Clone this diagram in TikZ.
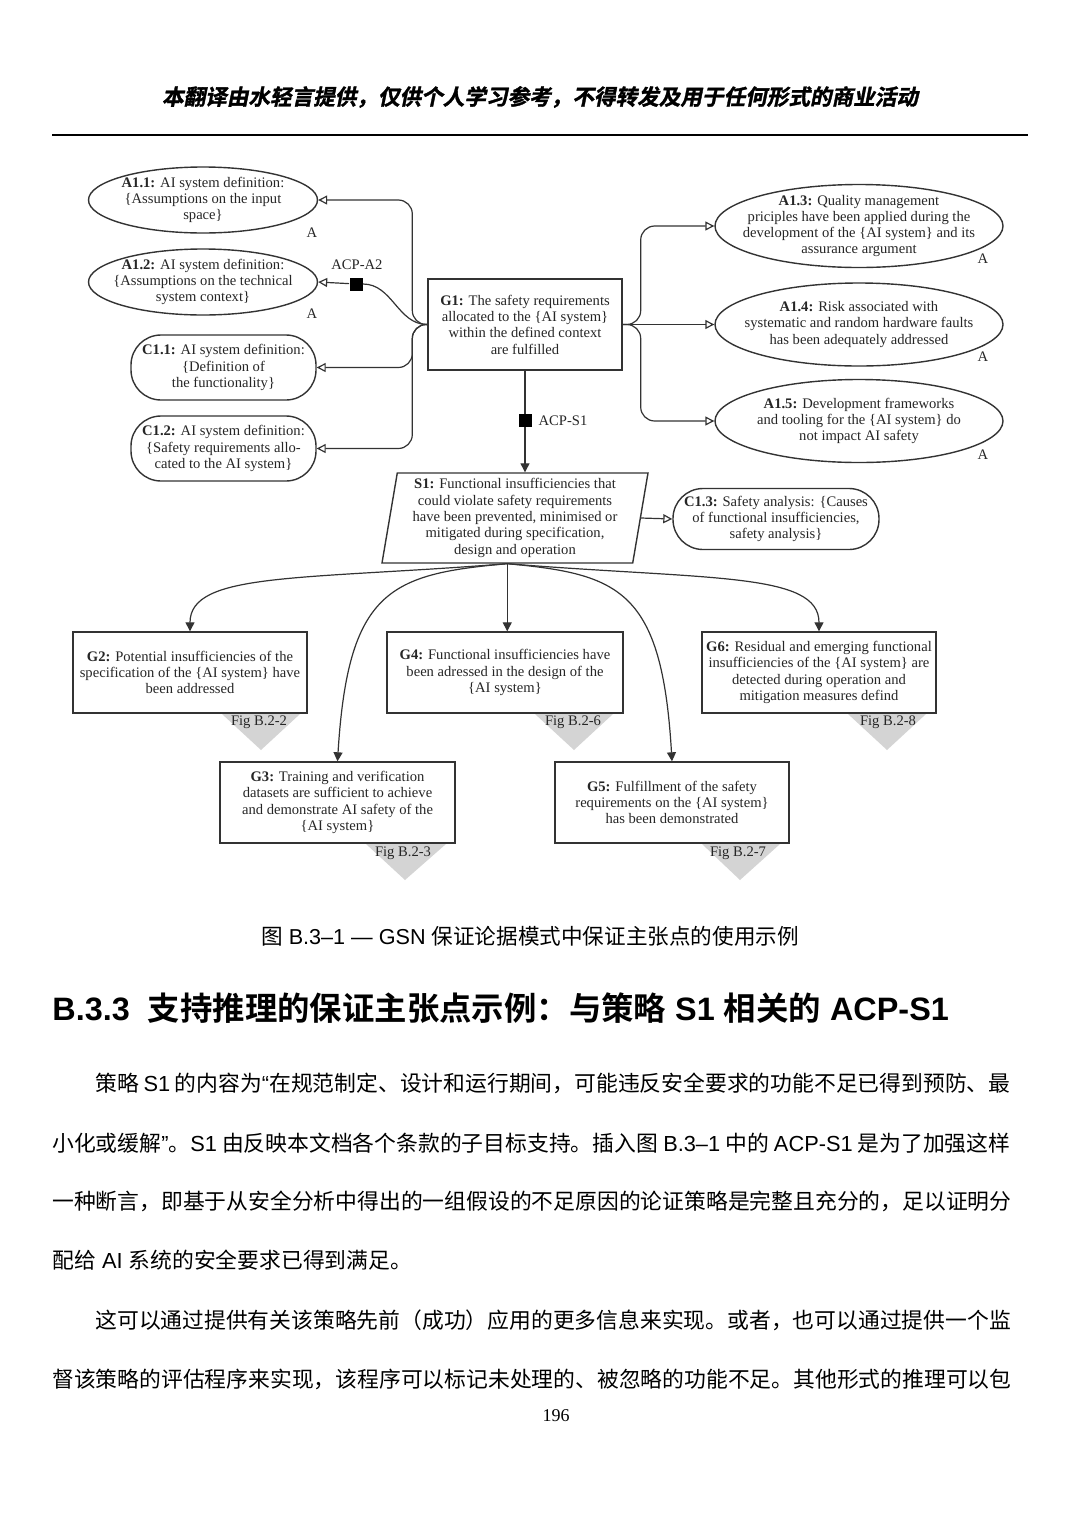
\documentclass[tikz,border=0pt]{standalone}
\usepackage{fontspec}
\setmainfont{Liberation Serif}
\newfontfamily\cjk{Noto Sans CJK SC}
\newfontfamily\cjkb{Noto Sans CJK SC Bold}
\newfontfamily\cjkhead[FakeSlant=0.2, FakeBold=1.5]{Noto Sans CJK SC Bold}
\newfontfamily\lat{Liberation Sans}
\usetikzlibrary{shapes.geometric, arrows.meta}

\newcommand{\gsnfont}{\fontsize{7.3pt}{8.15pt}\selectfont}
\newcommand{\bodyfont}{\cjk\fontsize{10.9pt}{13pt}\selectfont}

\tikzset{
  gsn/.style={font=\gsnfont, align=center, text=black!85, draw=black!80, line width=0.7pt, inner sep=0pt},
  goal/.style={gsn, rectangle, minimum width=117pt, minimum height=40.5pt},
  assum/.style={gsn, ellipse, inner xsep=-12pt, inner ysep=-10pt},
  ctxt/.style={gsn, rectangle, rounded corners=15pt},
  strat/.style={gsn, trapezium, trapezium left angle=79, trapezium right angle=101,
    trapezium stretches body, minimum width=133pt, minimum height=45pt},
  acp/.style={fill=black, minimum size=6.5pt, inner sep=0pt},
  albl/.style={font=\gsnfont, text=black!85, inner sep=0pt},
  reftri/.style={fill=black!17},
  incontext/.style={-{Triangle[open, length=4.5pt, width=4.5pt]}, line width=0.6pt, draw=black!80},
  supportedby/.style={-{Triangle[length=4.5pt, width=4.5pt]}, line width=0.6pt, draw=black!80},
  bodytext/.style={font=\bodyfont, anchor=west, inner sep=0pt}
}

\begin{document}
\begin{tikzpicture}[x=0.5pt, y=0.5pt]
    \useasboundingbox (0,0) rectangle (1080,-1527);
    \fill[white] (0,0) rectangle (1080,-1527);

    % page header
    \node (head) [font={\cjkhead\fontsize{10.8pt}{13pt}\selectfont}] at (540,-97)
        {本翻译由水轻言提供，仅供个人学习参考，不得转发及用于任何形式的商业活动};
    \draw[line width=1pt] (52,-135) -- (1028,-135);

    % away goal references
    \fill[reftri] (222,-714) -- (300,-714) -- (261,-750) -- cycle;
    \fill[reftri] (535,-714) -- (613,-714) -- (574,-750) -- cycle;
    \fill[reftri] (848,-714) -- (926,-714) -- (887,-750) -- cycle;
    \fill[reftri] (366,-844) -- (446,-844) -- (405,-880) -- cycle;
    \fill[reftri] (702,-844) -- (780,-844) -- (740,-880) -- cycle;

    % top goal
    \node (G1) [goal, minimum width=97pt, minimum height=45.5pt] at (525,-324.5)
        {\textbf{G1:} The safety requirements\\ allocated to the \{AI system\}\\ within the defined context\\ are fulfilled};

    % left assumptions and contexts
    \node (A11) [assum, minimum width=114.5pt, minimum height=33pt] at (203,-200)
        {\textbf{A1.1:} AI system definition:\\ \{Assumptions on the input\\ space\}};
    \node (A12) [assum, minimum width=114.5pt, minimum height=33pt] at (203,-282)
        {\textbf{A1.2:} AI system definition:\\ \{Assumptions on the technical\\ system context\}};
    \node (C11) [ctxt, minimum width=92.5pt, minimum height=32.5pt] at (223.5,-367.5)
        {\textbf{C1.1:} AI system definition:\\ \{Definition of\\ the functionality\}};
    \node (C12) [ctxt, minimum width=92.5pt, minimum height=32.5pt] at (223.5,-448.5)
        {\textbf{C1.2:} AI system definition:\\ \{Safety requirements allo-\\ cated to the AI system\}};
    \node (A11a) [albl] at (312,-233) {A};
    \node (A12a) [albl] at (312,-314) {A};

    % right assumptions
    \node (A13) [assum, minimum width=144pt, minimum height=41.5pt] at (859,-226)
        {\textbf{A1.3:} Quality management\\ priciples have been applied during the\\ development of the \{AI system\} and its\\ assurance argument};
    \node (A14) [assum, minimum width=144pt, minimum height=41.5pt] at (859,-324.5)
        {\textbf{A1.4:} Risk associated with\\ systematic and random hardware faults\\ has been adequately addressed};
    \node (A15) [assum, minimum width=144pt, minimum height=41.5pt] at (859,-421)
        {\textbf{A1.5:} Development frameworks\\ and tooling for the \{AI system\} do\\ not impact AI safety};
    \node (A13a) [albl] at (983,-259) {A};
    \node (A14a) [albl] at (983,-357) {A};
    \node (A15a) [albl] at (983,-455) {A};

    % strategy and its context
    \node (S1) [strat] at (515,-518)
        {\textbf{S1:} Functional insufficiencies that\\ could violate safety requirements\\ have been prevented, minimised or\\ mitigated during specification,\\ design and operation};
    \node (C13) [ctxt, minimum width=103pt, minimum height=30.5pt] at (776,-519)
        {\textbf{C1.3:} Safety analysis: \{Causes\\ of functional insufficiencies,\\ safety analysis\}};

    % sub goals
    \node (G2) [goal] at (190,-672.5)
        {\textbf{G2:} Potential insufficiencies of the\\ specification of the \{AI system\} have\\ been addressed};
    \node (G4) [goal, minimum width=118pt] at (505,-672.5)
        {\textbf{G4:} Functional insufficiencies have\\ been adressed in the design of the\\ \{AI system\}};
    \node (G6) [goal] at (819,-672.5)
        {\textbf{G6:} Residual and emerging functional\\ insufficiencies of the \{AI system\} are\\ detected during operation and\\ mitigation measures defind};
    \node (G3) [goal, minimum width=117.5pt] at (337.5,-802.5)
        {\textbf{G3:} Training and verification\\ datasets are sufficient to achieve\\ and demonstrate AI safety of the\\ \{AI system\}};
    \node (G5) [goal] at (672,-802.5)
        {\textbf{G5:} Fulfillment of the safety\\ requirements on the \{AI system\}\\ has been demonstrated};

    \node (G2f) [albl] at (259,-722) {Fig B.2-2};
    \node (G4f) [albl] at (573,-722) {Fig B.2-6};
    \node (G6f) [albl] at (888,-722) {Fig B.2-8};
    \node (G3f) [albl] at (403,-853) {Fig B.2-3};
    \node (G5f) [albl] at (738,-853) {Fig B.2-7};

    % in context of
    \node (acpA2) [acp] at (356,-284) {};
    \node (acpA2l) [albl] at (357,-265) {ACP-A2};
    \draw[incontext, rounded corners=7pt] (G1.west) -- ++(-15,0) |- (A11.east);
    \draw[incontext] (G1.west) to[out=180, in=0] (acpA2) -- (A12.east);
    \draw[incontext, rounded corners=7pt] (G1.west) -- ++(-15,0) |- (C11.east);
    \draw[incontext, rounded corners=7pt] (G1.west) -- ++(-15,0) |- (C12.east);
    \draw[incontext, rounded corners=7pt] (G1.east) -- ++(18,0) |- (A13.west);
    \draw[incontext] (G1.east) -- (A14.west);
    \draw[incontext, rounded corners=7pt] (G1.east) -- ++(18,0) |- (A15.west);
    \draw[incontext] (S1.right side) -- (C13.west);

    % supported by
    \draw[supportedby] (G1.south) -- (G1.south |- S1.top side)
        node (acpS1) [acp, pos=0.49] {};
    \node (acpS1l) [albl] at (563,-421) {ACP-S1};
    \draw[supportedby] (S1.bottom side) .. controls (300,-580) and (190,-572) .. (G2.north);
    \draw[supportedby] (S1.bottom side) .. controls (390,-574) and (348,-590) .. (G3.north);
    \draw[supportedby] (S1.bottom side) -- (S1.bottom side |- G4.north);
    \draw[supportedby] (S1.bottom side) .. controls (620,-574) and (662,-590) .. (G5.north);
    \draw[supportedby] (S1.bottom side) .. controls (710,-580) and (819,-572) .. (G6.north);

    % caption, heading and body text
    \node (cap) [font={\cjk\fontsize{10.8pt}{13pt}\selectfont}] at (530,-936)
        {图{\lat\ B.3–1 — GSN }保证论据模式中保证主张点的使用示例};
    \node (sec) [font={\cjkb\fontsize{16.2pt}{19pt}\selectfont}, anchor=west, inner sep=0pt] at (52,-1008)
        {{\lat\bfseries B.3.3\ \ }支持推理的保证主张点示例：与策略{\lat\bfseries\ S1 }相关的{\lat\bfseries\ ACP-S1}};
    \node (p1a) [bodytext] at (95,-1083) {\makebox[457.5pt][s]{策略{\lat\ S1 }的内容为{\lat “}在规范制定、设计和运行期间，可能违反安全要求的功能不足已得到预防、最}};
    \node (p1b) [bodytext] at (52,-1143) {\makebox[479pt][s]{小化或缓解{\lat ”}。{\lat S1 }由反映本文档各个条款的子目标支持。插入图{\lat\ B.3–1 }中的{\lat\ ACP-S1 }是为了加强这样}};
    \node (p1c) [bodytext] at (52,-1201) {一种断言，即基于从安全分析中得出的一组假设的不足原因的论证策略是完整且充分的，足以证明分};
    \node (p1d) [bodytext] at (52,-1260) {配给{\lat\ AI }系统的安全要求已得到满足。};
    \node (p2a) [bodytext] at (95,-1320) {这可以通过提供有关该策略先前（成功）应用的更多信息来实现。或者，也可以通过提供一个监};
    \node (p2b) [bodytext] at (52,-1379) {督该策略的评估程序来实现，该程序可以标记未处理的、被忽略的功能不足。其他形式的推理可以包};
    \node (pno) [font=\fontsize{9pt}{11pt}\selectfont] at (556,-1416) {196};
\end{tikzpicture}
\end{document}
